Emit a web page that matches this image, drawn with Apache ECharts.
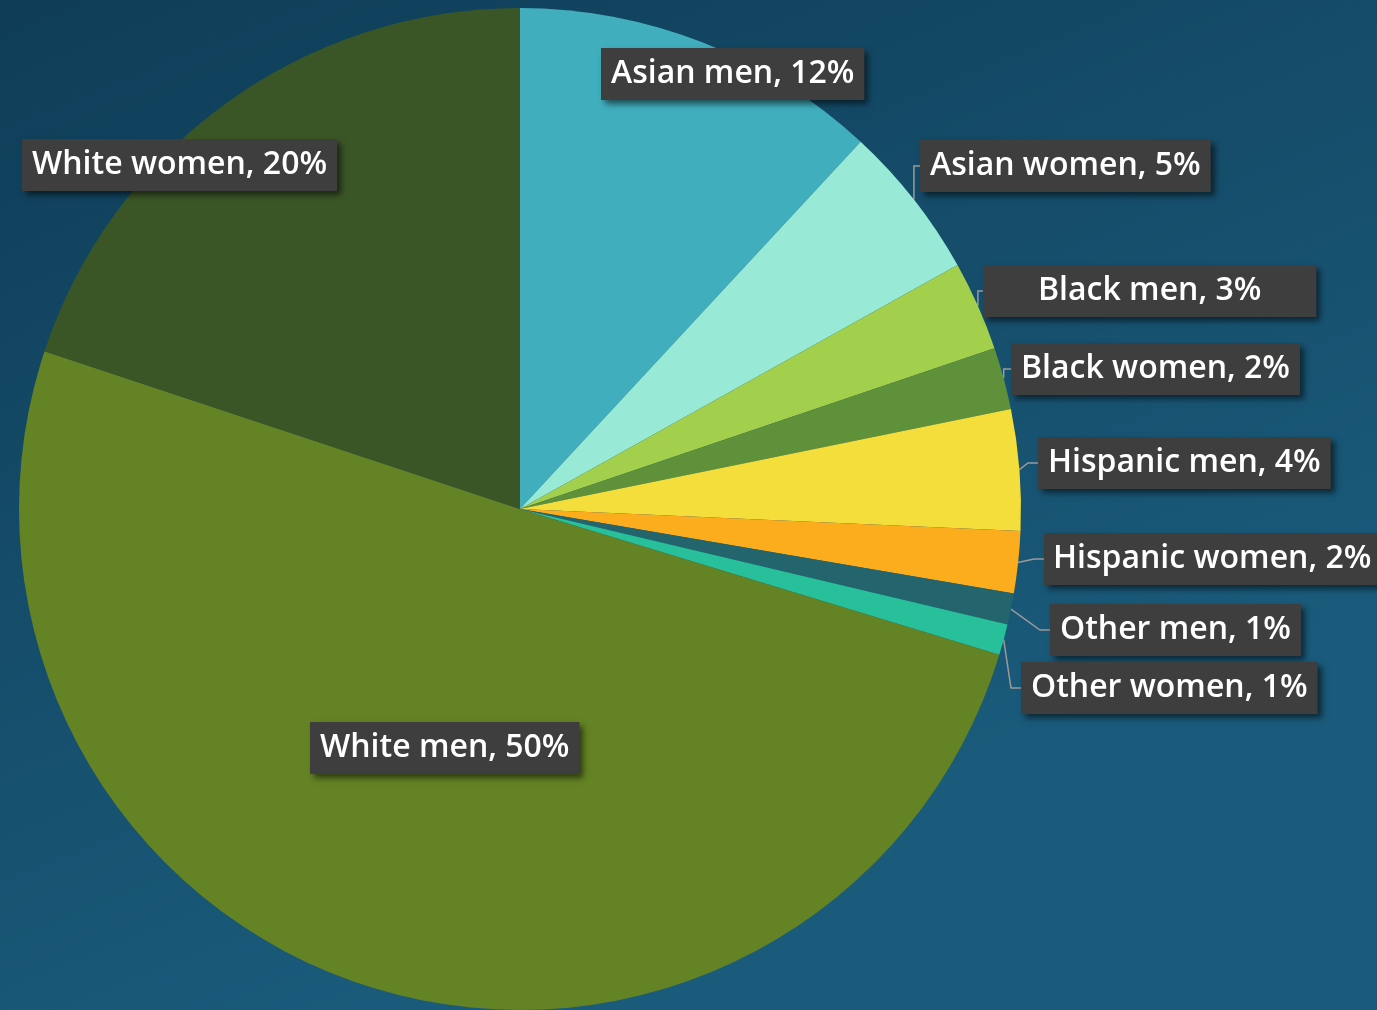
<!DOCTYPE html>
<html>
<head>
<meta charset="utf-8">
<script src="https://cdn.jsdelivr.net/npm/echarts@6/dist/echarts.min.js"></script>
<style>
html,body{margin:0;padding:0;width:1377px;height:1010px;overflow:hidden;}
#chart{width:1377px;height:1010px;}
</style>
</head>
<body>
<div id="chart"></div>
<script>
var categories = ['Asian men','Asian women','Black men','Black women','Hispanic men','Hispanic women','Other men','Other women','White men','White women'];
var shares = [11.9, 5.0, 2.9, 2.0, 3.9, 2.0, 1.0, 1.0, 50.4, 19.9];
var sliceColors = ['#40aebd','#98e9d6','#a2cf4c','#5f913b','#f3de3b','#fbad1d','#24646c','#27c09b','#648324','#3b5626'];
var insideLabel = [true,false,false,false,false,false,false,false,true,true];
// label box placement (left edge, vertical centre) and horizontal padding
var labelPos = [[601,74],[920,166],[983,291],[1011,369],[1038,463],[1044,559],[1050,630],[1021,688],[310,748],[22,165]];
var labelPadX = [10,10,55,10,10,9,10,10,10,10];

var data = categories.map(function(c,i){
  return {
    name: c,
    value: shares[i],
    itemStyle: {color: sliceColors[i]},
    label: {position: insideLabel[i] ? 'inside' : 'outside', padding: [8, labelPadX[i], 8, labelPadX[i]]},
    labelLine: {show: !insideLabel[i]}
  };
});

var chart = echarts.init(document.getElementById('chart'), null, {renderer:'canvas'});
chart.setOption({
  backgroundColor: {
    type: 'linear', x: 0, y: 0, x2: 0.3, y2: 1,
    colorStops: [{offset:0,color:'#0f3d57'},{offset:1,color:'#1a5b7b'}]
  },
  animation: false,
  series: [{
    type: 'pie',
    center: [520, 509],
    radius: 501,
    startAngle: 90,
    clockwise: true,
    avoidLabelOverlap: false,
    data: data,
    label: {
      show: true,
      formatter: function(p){ return p.name + ', ' + Math.round(p.percent) + '%'; },
      color: '#ffffff',
      fontFamily: '"Open Sans", sans-serif',
      fontWeight: 600,
      fontSize: 32,
      lineHeight: 36,
      backgroundColor: '#3e3e3e',
      shadowColor: 'rgba(0,0,0,0.55)',
      shadowBlur: 6,
      shadowOffsetX: 4,
      shadowOffsetY: 4
    },
    labelLine: {
      show: true,
      length: 10,
      length2: 10,
      lineStyle: {color: '#9a9a9a', width: 1.5}
    },
    labelLayout: function(params){
      var p = labelPos[params.dataIndex];
      return {x: p[0], y: p[1], align: 'left', verticalAlign: 'middle'};
    }
  }]
});
</script>
</body>
</html>
